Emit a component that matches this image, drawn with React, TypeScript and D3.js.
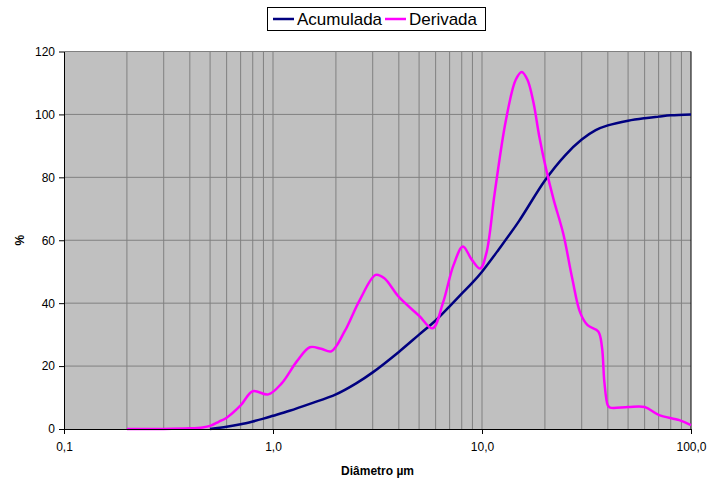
import { useEffect, useRef } from 'react'
import * as d3 from 'd3'

// diameters in µm, values in %
const acumDiam = [0.5, 0.6, 0.7, 0.8, 0.9, 1.0, 1.2, 1.5, 2, 2.5, 3, 4, 5, 6, 7, 8, 9, 10, 12, 15, 20, 25, 30, 35, 40, 50, 60, 70, 80, 100]
const acumVals = [0, 0.7, 1.5, 2.4, 3.3, 4.2, 5.8, 8, 11, 14.5, 18, 24.5, 30, 34.5, 39, 43, 46.5, 50, 57, 66, 79, 87, 92, 95, 96.5, 98, 98.8, 99.3, 99.7, 100]

const derivDiam = [0.2, 0.3, 0.4, 0.46, 0.5, 0.55, 0.6, 0.7, 0.8, 0.95, 1.1, 1.3, 1.5, 1.7, 1.9, 2.2, 2.6, 3.1, 3.4, 4, 5, 5.8, 6.5, 7.3, 8.1, 8.9, 9.8, 10.5, 11.5, 13, 14.5, 15.5, 16.5, 17.6, 18.8, 20.2, 22, 24.5, 27, 29.5, 32, 36, 37.5, 38.5, 40, 41, 50, 60, 70, 88, 100]
const derivVals = [0, 0, 0.2, 0.5, 1, 2.3, 3.6, 7.5, 12, 11, 14.5, 21.5, 26, 25.5, 24.7, 31, 41, 49, 48, 42, 36, 32, 40, 52, 58, 54, 51, 56, 75, 98, 111, 113.5, 111, 104, 93, 83, 73, 62, 48, 37, 33, 31, 26, 15, 7.5, 6.8, 7, 7, 4.5, 2.8, 1.2]

const yTicks = [0, 20, 40, 60, 80, 100, 120]
const xMajor = [0.1, 1, 10, 100]
const xMajorLabels = ['0,1', '1,0', '10,0', '100,0']
const seriesNames = ['Acumulada', 'Derivada']
const seriesColors = ['#000080', '#ff00ff']

export default function App() {
  const ref = useRef<SVGSVGElement>(null)

  useEffect(() => {
    const svg = d3.select(ref.current)
    svg.selectAll('*').remove()
    const font = 'Arial, "Liberation Sans", sans-serif'
    const left = 64, right = 691, top = 51.5, bottom = 429

    const x = d3.scaleLog().domain([0.1, 100]).range([left, right])
    const y = d3.scaleLinear().domain([0, 120]).range([bottom, top])

    svg.append('rect').attr('x', left).attr('y', top)
      .attr('width', right - left).attr('height', bottom - top)
      .attr('fill', '#c0c0c0')

    // vertical minor/major gridlines
    const vlines: number[] = []
    for (let dec = 0.1; dec < 100; dec *= 10) {
      for (let k = 1; k <= 9; k++) {
        const v = +(dec * k).toPrecision(3)
        if (v > 0.1) vlines.push(v)
      }
    }
    svg.append('g').selectAll('line').data(vlines).enter().append('line')
      .attr('x1', d => x(d)).attr('x2', d => x(d))
      .attr('y1', top).attr('y2', bottom)
      .attr('stroke', '#808080').attr('stroke-width', 1)

    svg.append('g').selectAll('line').data(yTicks.slice(1)).enter().append('line')
      .attr('x1', left).attr('x2', right)
      .attr('y1', d => y(d)).attr('y2', d => y(d))
      .attr('stroke', '#808080').attr('stroke-width', 1)

    // right border
    svg.append('line').attr('x1', right).attr('x2', right).attr('y1', top).attr('y2', bottom)
      .attr('stroke', '#000').attr('stroke-width', 1)

    const line = d3.line<[number, number]>()
      .x(d => x(d[0])).y(d => y(d[1]))
      .curve(d3.curveCatmullRom.alpha(0.5))

    const acum: [number, number][] = acumDiam.map((d, i) => [d, acumVals[i]])
    const deriv: [number, number][] = derivDiam.map((d, i) => [d, derivVals[i]])

    svg.append('path').datum(acum).attr('d', line)
      .attr('fill', 'none').attr('stroke', seriesColors[0]).attr('stroke-width', 2.5)
    svg.append('path').datum(deriv).attr('d', line)
      .attr('fill', 'none').attr('stroke', seriesColors[1]).attr('stroke-width', 2.5)

    // y axis
    const ya = svg.append('g').attr('transform', `translate(${left},0)`)
      .call(d3.axisLeft(y).tickValues(yTicks).tickSize(5).tickPadding(4).tickSizeOuter(0))
    ya.select('.domain').attr('stroke', '#000')
    ya.selectAll('line').attr('stroke', '#000')
    ya.selectAll('text').attr('font-family', font).attr('font-size', 12).attr('fill', '#000')

    // x axis
    const xa = svg.append('g').attr('transform', `translate(0,${bottom})`)
      .call(d3.axisBottom(x).tickValues(xMajor)
        .tickFormat((_, i) => xMajorLabels[i]).tickSize(5).tickPadding(8).tickSizeOuter(0))
    xa.select('.domain').attr('stroke', '#000')
    xa.selectAll('line').attr('stroke', '#000')
    xa.selectAll('text').attr('font-family', font).attr('font-size', 12).attr('fill', '#000')

    svg.append('text').attr('x', (left + right) / 2).attr('y', 475)
      .attr('text-anchor', 'middle').attr('font-family', font)
      .attr('font-size', 12).attr('font-weight', 'bold').text('Diâmetro µm')

    svg.append('text').attr('transform', `translate(24,${(top + bottom) / 2}) rotate(-90)`)
      .attr('text-anchor', 'middle').attr('font-family', font)
      .attr('font-size', 12).attr('font-weight', 'bold').text('%')

    // legend
    const lg = svg.append('g')
    lg.append('rect').attr('x', 267.5).attr('y', 7.5).attr('width', 218).attr('height', 23)
      .attr('fill', '#fff').attr('stroke', '#000').attr('stroke-width', 1)
    const lx = [273, 385]
    seriesNames.forEach((name, i) => {
      lg.append('line').attr('x1', lx[i]).attr('x2', lx[i] + 21).attr('y1', 19).attr('y2', 19)
        .attr('stroke', seriesColors[i]).attr('stroke-width', 2.5)
      lg.append('text').attr('x', lx[i] + 24).attr('y', 25)
        .attr('font-family', font).attr('font-size', 17).text(name)
    })
  }, [])

  return (
    <div style={{ position: 'absolute', left: 0, top: 0 }}>
      <svg ref={ref} width={707} height={480} style={{ display: 'block', background: '#fff' }} />
    </div>
  )
}
